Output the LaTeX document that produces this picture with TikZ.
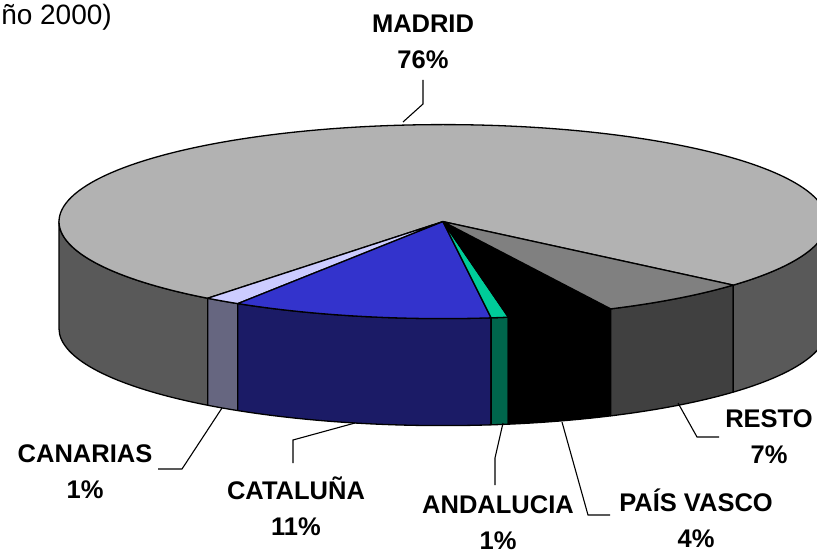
\documentclass[tikz,border=0pt]{standalone}
\usepackage{fontspec}
\setmainfont{Liberation Sans}
\definecolor{madtop}{HTML}{B2B2B2}
\definecolor{madside}{HTML}{595959}
\definecolor{restop}{HTML}{808080}
\definecolor{resside}{HTML}{404040}
\definecolor{andtop}{HTML}{00CC99}
\definecolor{andside}{HTML}{00664C}
\definecolor{cattop}{HTML}{3333CC}
\definecolor{catside}{HTML}{1B1B66}
\definecolor{cantop}{HTML}{CCCCFF}
\definecolor{canside}{HTML}{666680}
\newcommand\pieside[3]{\filldraw[edge,fill=#3](#1:384pt and 97pt)arc[start angle=#1,end angle=#2,x radius=384pt,y radius=97pt]--++(0,-107)arc[start angle=#2,end angle=#1,x radius=384pt,y radius=97pt]--cycle;}
\newcommand\pietop[3]{\filldraw[edge,fill=#3](0,0)--(#1:384pt and 97pt)arc[start angle=#1,end angle=#2,x radius=384pt,y radius=97pt]--cycle;}
\begin{document}
\begin{tikzpicture}[x=1pt,y=1pt,
    lbl/.style={font=\fontsize{25.5}{36}\selectfont\bfseries,align=center,inner sep=0pt},
    ldr/.style={line width=1.1pt},
    edge/.style={draw=black,line width=1.3pt,line join=round}]
        \useasboundingbox(0,0)rectangle(817,555);
        \node(title)at(112,530)[anchor=base east,inner sep=0pt,font=\fontsize{28}{32}\selectfont]{ño 2000)};
        \begin{scope}[shift={(443,333.4)}]
        \pieside{180}{232.2}{madside}
        \pieside{232.2}{237.7}{canside}
        \pieside{237.7}{277.2}{catside}
        \pieside{277.2}{279.8}{andside}
        \pieside{279.8}{295.9}{black}
        \pieside{295.9}{319.1}{resside}
        \pieside{319.1}{360}{madside}
        \pietop{319.1}{592.2}{madtop}
        \pietop{232.2}{237.7}{cantop}
        \pietop{237.7}{277.2}{cattop}
        \pietop{277.2}{279.8}{andtop}
        \pietop{279.8}{295.9}{black}
        \pietop{295.9}{319.1}{restop}
        \end{scope}
        \node(madrid)at(423,513.5)[lbl]{MADRID\\76\%};
        \node(canarias)at(85,83)[lbl]{CANARIAS\\1\%};
        \node(cataluna)at(296,49)[lbl]{CATALUÑA\\11\%};
        \node(andalucia)at(498,32)[lbl]{ANDALUCIA\\1\%};
        \node(paisvasco)at(696,37)[lbl]{PAÍS VASCO\\4\%};
        \node(resto)at(769,118)[lbl]{RESTO\\7\%};
        \coordinate(m1)at(423,475);\coordinate(m2)at(423,451);\coordinate(m3)at(403,433);
        \coordinate(c1)at(158,86);\coordinate(c2)at(182,86);\coordinate(c3)at(222,147);
        \coordinate(t1)at(293,92);\coordinate(t2)at(293,115);\coordinate(t3)at(355,132);
        \coordinate(a1)at(495,70);\coordinate(a2)at(495,97);\coordinate(a3)at(503,132);
        \coordinate(p1)at(610,40);\coordinate(p2)at(588,40);\coordinate(p3)at(562,133);
        \coordinate(r1)at(719,118);\coordinate(r2)at(697,118);\coordinate(r3)at(678,152);
        \draw[ldr](m1)--(m2)--(m3);
        \draw[ldr](c1)--(c2)--(c3);
        \draw[ldr](t1)--(t2)--(t3);
        \draw[ldr](a1)--(a2)--(a3);
        \draw[ldr](p1)--(p2)--(p3);
        \draw[ldr](r1)--(r2)--(r3);
    \end{tikzpicture}
\end{document}
